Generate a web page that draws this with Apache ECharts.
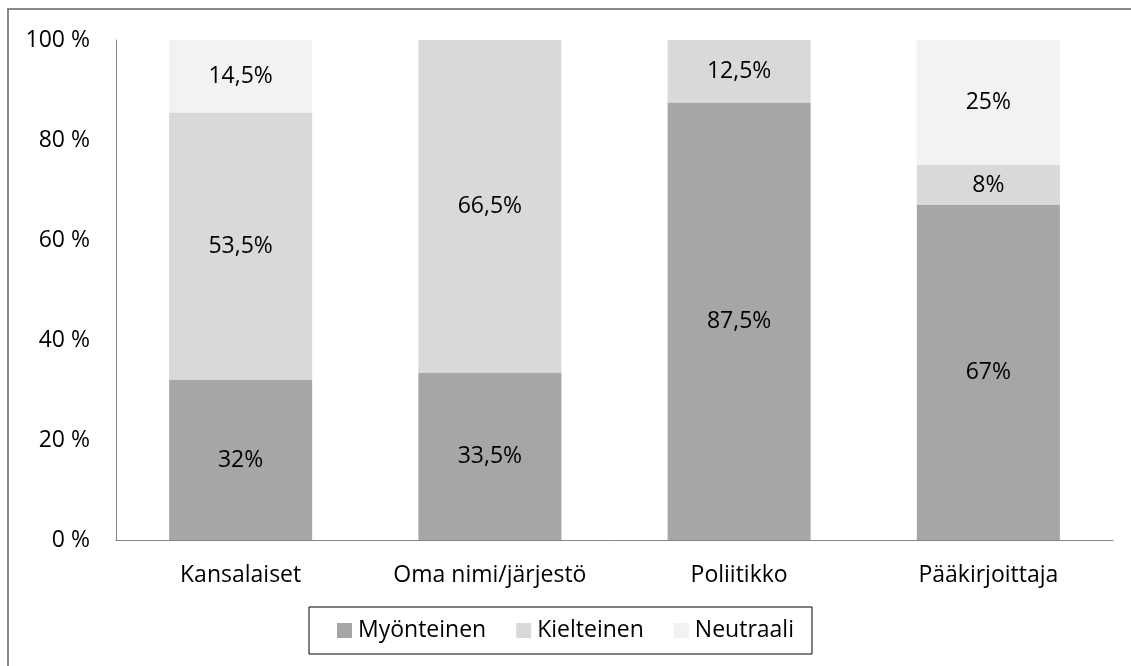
<!DOCTYPE html>
<html lang="fi">
<head>
<meta charset="UTF-8">
<title>Myönteinen / Kielteinen / Neutraali</title>
<script src="https://cdn.jsdelivr.net/npm/echarts@6/dist/echarts.min.js"></script>
<style>
  html, body { margin: 0; padding: 0; background: #fff; }
  #main { width: 1131px; height: 666px; }
</style>
</head>
<body>
<div id="main"></div>
<script>
// data (percent)
const categories = ['Kansalaiset', 'Oma nimi/järjestö', 'Poliitikko', 'Pääkirjoittaja'];
const seriesNames = ['Myönteinen', 'Kielteinen', 'Neutraali'];
const myonteinen = [32, 33.5, 87.5, 67];
const kielteinen = [53.5, 66.5, 12.5, 8];
const neutraali = [14.5, 0, 0, 25];
const yTicks = [0, 20, 40, 60, 80, 100];

const colors = ['#a6a6a6', '#d9d9d9', '#f2f2f2'];
const font = '"Open Sans", "Noto Sans", sans-serif';
const fs = 23;

const chart = echarts.init(document.getElementById('main'));

function pct(v) {
    return String(v).replace('.', ',') + '%';
}

function makeSeries(name, data, color) {
    return {
        name: name,
        type: 'bar',
        stack: 'total',
        data: data,
        barWidth: '57.4%',
        itemStyle: { color: color },
        label: {
            show: true,
            position: 'inside',
            color: '#000',
            fontFamily: font,
            fontSize: fs,
            formatter: p => (p.value ? pct(p.value) : '')
        },
        emphasis: { disabled: true }
    };
}

chart.setOption({
    animation: false,
    textStyle: { fontFamily: font },
    graphic: [{
        type: 'rect',
        shape: { x: 8, y: 9, width: 1300, height: 800 },
        style: { fill: 'none', stroke: '#888', lineWidth: 2 },
        silent: true
    }],
    grid: { left: 116, right: 18, top: 40, bottom: 126 },
    legend: {
        data: seriesNames,
        left: 'center',
        top: 607,
        itemWidth: 15,
        itemHeight: 15,
        itemGap: 30,
        padding: [12, 18, 12, 28],
        borderColor: '#000',
        borderWidth: 1,
        icon: 'rect',
        textStyle: { fontFamily: font, fontSize: fs, color: '#000', padding: [0, 0, 0, 1] }
    },
    xAxis: {
        type: 'category',
        data: categories,
        axisLine: { lineStyle: { color: '#868686', width: 1 } },
        axisTick: { show: false },
        axisLabel: { color: '#000', fontFamily: font, fontSize: fs, margin: 24, interval: 0 }
    },
    yAxis: {
        type: 'value',
        min: yTicks[0],
        max: yTicks[yTicks.length - 1],
        interval: yTicks[1] - yTicks[0],
        axisLine: { show: true, lineStyle: { color: '#868686', width: 1 } },
        axisTick: { show: false },
        splitLine: { show: false },
        axisLabel: { color: '#000', fontFamily: font, fontSize: fs, margin: 26, formatter: '{value} %' }
    },
    series: [
        makeSeries(seriesNames[0], myonteinen, colors[0]),
        makeSeries(seriesNames[1], kielteinen, colors[1]),
        makeSeries(seriesNames[2], neutraali, colors[2])
    ]
});
</script>
</body>
</html>
